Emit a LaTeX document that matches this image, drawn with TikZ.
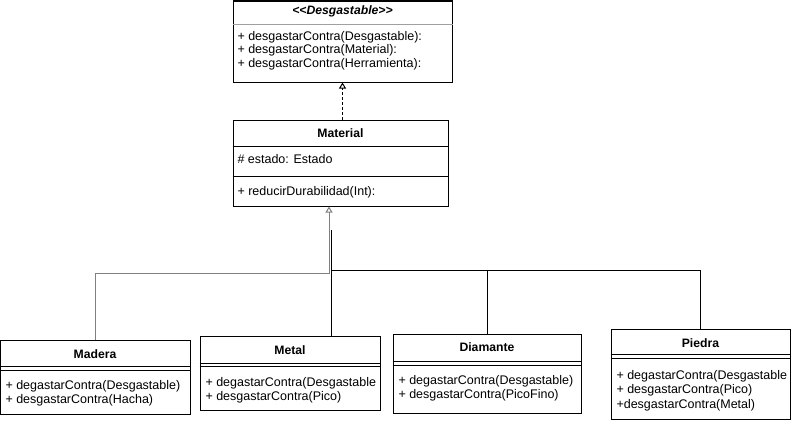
\documentclass[tikz,border=0pt]{standalone}
\usepackage{fontspec}
\setmainfont{Liberation Sans}
\usetikzlibrary{arrows.meta}
\definecolor{line_gray}{RGB}{128,128,128}
\definecolor{sep_gray}{RGB}{160,160,160}

\begin{document}
\begin{tikzpicture}[x=1pt,y=-1pt,line width=1pt]
    \tikzstyle{classbox}=[draw, rectangle, inner sep=0pt, fill=none]
    \tikzstyle{classname}=[inner sep=0pt, font=\bfseries\fontsize{12.2}{14}\selectfont]
    \tikzstyle{member}=[anchor=west, inner sep=0pt, font=\fontsize{12.5}{14}\selectfont]
    \tikzstyle{inherit}=[-{Triangle[open,width=7pt,length=6pt]}]

    \useasboundingbox (0,0) rectangle (792,423);

    % interface and base class
    \node[classbox, minimum width=219, minimum height=81] (desg) at (342.5,41.5) {};
    \node[classname, font=\bfseries\itshape\fontsize{12.2}{14}\selectfont] (desgT) at (342.5,11) {<\kern0pt<Desgastable>\kern0pt>};
    \draw[sep_gray] (desg.west |- 0,24) -- (desg.east |- 0,24);
    \node[member] (desgA) at (237,37) {+ desgastarContra(Desgastable):};
    \node[member] (desgB) at (237,50.5) {+ desgastarContra(Material):};
    \node[member] (desgC) at (237,64) {+ desgastarContra(Herramienta):};

    \node[classbox, minimum width=215, minimum height=86] (material) at (340.5,163) {};
    \node[classname] (materialT) at (340.5,133) {Material};
    \draw (material.west |- 0,146) -- (material.east |- 0,146);
    \draw (material.west |- 0,176) -- (material.east |- 0,176);
    \node[member] (materialA) at (237,159) {\# estado: Estado};
    \node[member] (materialB) at (237,192) {+ reducirDurabilidad(Int):};

    % subclasses
    \node[classbox, minimum width=189.5, minimum height=74] (madera) at (95.25,377) {};
    \node[classname] (maderaT) at (95,354) {Madera};
    \draw (madera.west |- 0,366) -- (madera.east |- 0,366);
    \draw (madera.west |- 0,370) -- (madera.east |- 0,370);
    \node[member] (maderaA) at (5,386) {+ degastarContra(Desgastable)};
    \node[member] (maderaB) at (5,400) {+ desgastarContra(Hacha)};

    \node[classbox, minimum width=180, minimum height=74] (metal) at (290,373) {};
    \node[classname] (metalT) at (290,350) {Metal};
    \draw (metal.west |- 0,363) -- (metal.east |- 0,363);
    \draw (metal.west |- 0,366.5) -- (metal.east |- 0,366.5);
    \node[member] (metalA) at (205,383) {+ degastarContra(Desgastable};
    \node[member] (metalB) at (205,397) {+ desgastarContra(Pico)};

    \node[classbox, minimum width=188, minimum height=79] (diamante) at (487,373.5) {};
    \node[classname] (diamanteT) at (487,347) {Diamante};
    \draw (diamante.west |- 0,361) -- (diamante.east |- 0,361);
    \draw (diamante.west |- 0,365) -- (diamante.east |- 0,365);
    \node[member] (diamanteA) at (398,381) {+ degastarContra(Desgastable)};
    \node[member] (diamanteB) at (398,395) {+ desgastarContra(PicoFino)};

    \node[classbox, minimum width=179, minimum height=90] (piedra) at (700.5,374) {};
    \node[classname] (piedraT) at (700.5,343) {Piedra};
    \draw (piedra.west |- 0,354) -- (piedra.east |- 0,354);
    \draw (piedra.west |- 0,358) -- (piedra.east |- 0,358);
    \node[member] (piedraA) at (616,376) {+ degastarContra(Desgastable};
    \node[member] (piedraB) at (616,390.5) {+ desgastarContra(Pico)};
    \node[member] (piedraC) at (616,405) {+desgastarContra(Metal)};

    % connectors
    \coordinate (joinA) at (329,273);
    \coordinate (joinB) at (331,270);
    \coordinate (stubB) at (331,230);

    \draw[dashed, dash pattern=on 3pt off 2pt, inherit] (material.north -| desg.south) -- (desg.south);
    \draw[line_gray, inherit] (madera.north) |- (joinA) -- (joinA |- material.south);
    \draw (metal.north -| stubB) -- (stubB);
    \draw (joinB) -| (piedra.north);
    \draw (diamante.north |- joinB) -- (diamante.north);
\end{tikzpicture}
\end{document}
